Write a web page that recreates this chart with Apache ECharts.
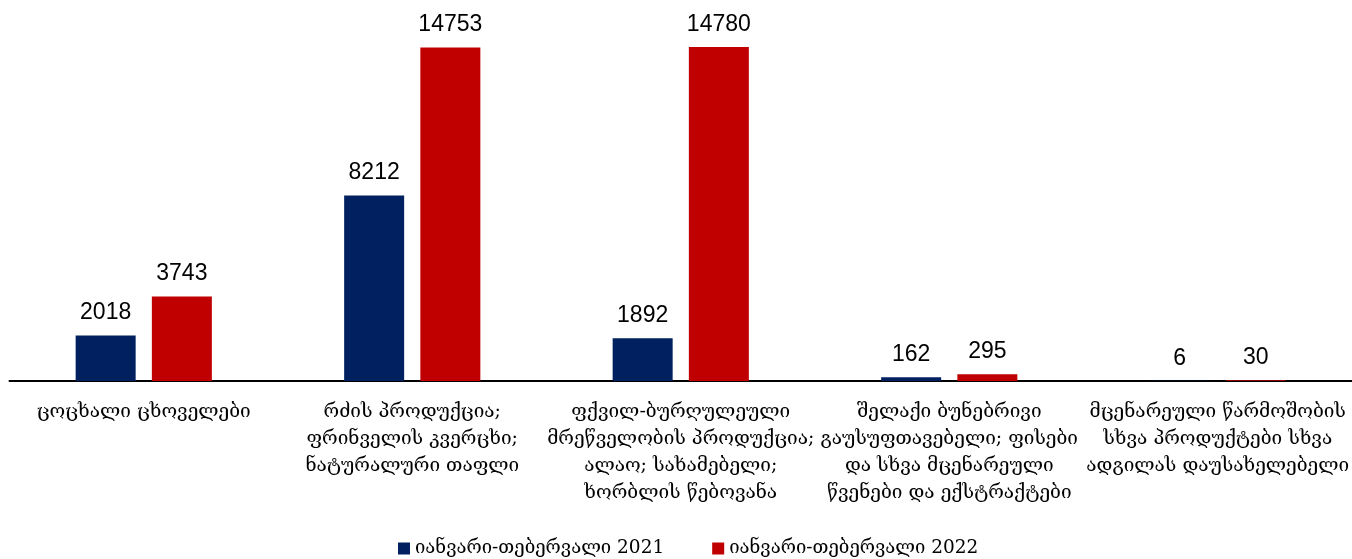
<!DOCTYPE html>
<html><head><meta charset="utf-8">
<script src="https://cdn.jsdelivr.net/npm/echarts@6/dist/echarts.min.js"></script>
<style>html,body{margin:0;padding:0;background:#fff}#c{width:1352px;height:559px}</style>
</head><body><div id="c"></div>
<script>
const categories = [
  "ცოცხალი ცხოველები",
  "რძის პროდუქცია;\nფრინველის კვერცხი;\nნატურალური თაფლი",
  "ფქვილ-ბურღულეული\nმრეწველობის პროდუქცია;\nალაო; სახამებელი;\nხორბლის წებოვანა",
  "შელაქი ბუნებრივი\nგაუსუფთავებელი; ფისები\nდა სხვა მცენარეული\nწვენები და ექსტრაქტები",
  "მცენარეული წარმოშობის\nსხვა პროდუქტები სხვა\nადგილას დაუსახელებელი"
];
const seriesNames = ["იანვარი-თებერვალი 2021", "იანვარი-თებერვალი 2022"];
const values2021 = [2018, 8212, 1892, 162, 6];
const values2022 = [3743, 14753, 14780, 295, 30];

const chart = echarts.init(document.getElementById('c'));
const geoFont = "'DejaVu Serif', serif";
const lbl = {show:true, position:'top', distance:11, color:'#000', fontSize:23, fontFamily:"'Liberation Sans', Arial, sans-serif"};
chart.setOption({
  animation:false,
  grid:{left:9.5, width:1345, top:19.4, bottom:178, containLabel:false},
  legend:{
    top:539, left:393, padding:[0,5], itemWidth:12, itemHeight:12, itemGap:48, icon:'rect',
    textStyle:{fontSize:18.5, fontFamily:geoFont, color:'#000'},
    data:seriesNames
  },
  xAxis:{
    type:'category', data:categories,
    axisLine:{show:true, lineStyle:{color:'#000', width:2}},
    axisTick:{show:false},
    axisLabel:{interval:0, margin:18, fontSize:19, lineHeight:27, color:'#000', fontFamily:geoFont, align:'center'}
  },
  yAxis:{type:'value', min:0, max:16000, show:false, splitLine:{show:false}},
  series:[
    {name:seriesNames[0], type:'bar', data:values2021, barWidth:60, barGap:'27%', itemStyle:{color:'#002060'}, label:lbl},
    {name:seriesNames[1], type:'bar', data:values2022, barWidth:60, itemStyle:{color:'#C00000'}, label:lbl}
  ]
});
</script></body></html>
